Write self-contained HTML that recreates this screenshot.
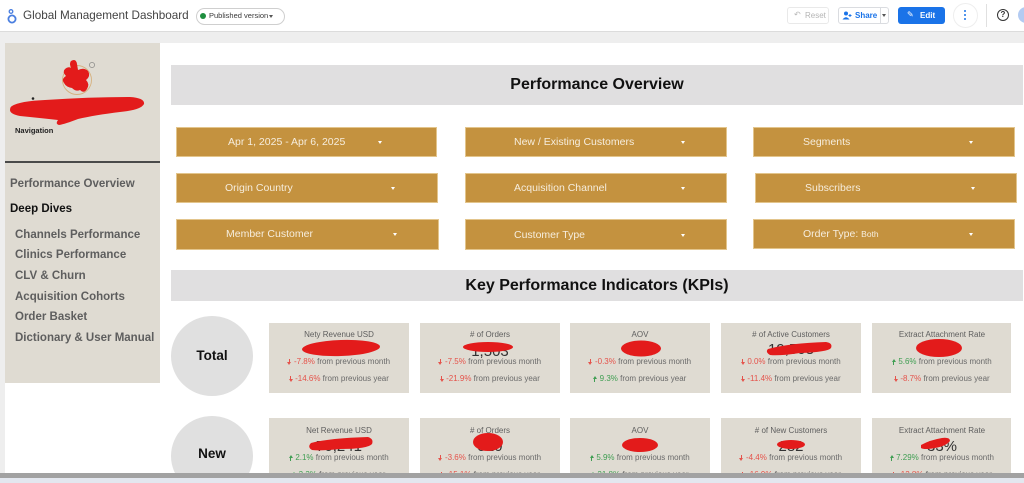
<!DOCTYPE html>
<html><head><meta charset="utf-8">
<style>
*{margin:0;padding:0;box-sizing:border-box}
html,body{width:1024px;height:483px;overflow:hidden;background:#eeeeee;font-family:"Liberation Sans",sans-serif}
#w{position:relative;width:1024px;height:483px;overflow:hidden;background:#eeeeee}
.a{position:absolute}
.top{left:0;top:0;width:1024px;height:32px;background:#fff;border-bottom:1px solid #dcdcdc}
.main{left:5px;top:43px;width:1019px;height:430px;background:#fff}
.side{left:5px;top:43px;width:155px;height:340px;background:#dfdbd2}
.nav{position:absolute;font-size:11.5px;font-weight:bold;color:#5e5e5e;white-space:nowrap;line-height:14px}
.hbar{left:171px;width:852px;background:#e0dfe0;text-align:center;font-weight:bold;color:#111;font-size:16px}
.f{position:absolute;height:30px;background:#c4923f;border:1px solid #e3c58c}
.ft{position:absolute;font-size:10.5px;color:#f6eddd;white-space:nowrap;line-height:12px}
.arr{position:absolute;width:0;height:0;border-left:2.5px solid transparent;border-right:2.5px solid transparent;border-top:3px solid #fff}
.circ{position:absolute;width:82px;height:80px;border-radius:50%;background:#e0e0e0;text-align:center;font-weight:bold;font-size:13.5px;color:#111}
.card{position:absolute;width:140px;height:70px;background:#dfdbd2}
.ct{position:absolute;left:0;width:140px;text-align:center;font-size:8px;color:#5e5e5e;white-space:nowrap;line-height:10px}
.cv{position:absolute;left:0;width:140px;text-align:center;font-size:15px;color:#333;white-space:nowrap;line-height:16px}
.cl{position:absolute;left:0;width:140px;text-align:center;font-size:8px;color:#6a6a6a;white-space:nowrap;line-height:10px}
.r{color:#e5534b}.g{color:#3f9e52}
.dn,.up{display:inline-block;width:3px;height:6px;margin-right:3px;vertical-align:-0.5px;position:relative}
.dn{background:linear-gradient(#e5534b,#e5534b) top center/1.4px 4px no-repeat}
.dn:after{content:"";position:absolute;left:-0.5px;top:3px;border-left:2px solid transparent;border-right:2px solid transparent;border-top:3px solid #e5534b}
.up{background:linear-gradient(#3f9e52,#3f9e52) bottom center/1.4px 4px no-repeat}
.up:after{content:"";position:absolute;left:-0.5px;top:0;border-left:2px solid transparent;border-right:2px solid transparent;border-bottom:3px solid #3f9e52}
</style></head><body>
<div id="w">

<!-- top bar -->
<div class="a top"></div>
<svg class="a" style="left:6px;top:7px" width="14" height="18" viewBox="0 0 14 18">
<circle cx="6" cy="12" r="3.6" fill="none" stroke="#4a7fe0" stroke-width="1.8"/>
<circle cx="5" cy="4.5" r="1.8" fill="none" stroke="#4a7fe0" stroke-width="1.3"/>
</svg>
<div class="a" style="left:23px;top:9px;font-size:11.7px;color:#444;white-space:nowrap;line-height:14px">Global Management Dashboard</div>
<div class="a" style="left:196px;top:8px;width:89px;height:17px;border:1px solid #cfcfcf;border-radius:9px;background:#fff"></div>
<div class="a" style="left:200px;top:13px;width:6px;height:6px;border-radius:50%;background:#1e8e3e"></div>
<div class="a" style="left:209px;top:11px;font-size:7.5px;color:#3a3a3a;white-space:nowrap;line-height:10px">Published version</div>
<div class="arr" style="left:269px;top:15px;border-top-color:#555"></div>

<!-- right buttons -->
<div class="a" style="left:787px;top:7px;width:42px;height:17px;border:1px solid #e9e9e9;border-radius:3px"></div>
<div class="a" style="left:794px;top:10px;font-size:8px;color:#b8b8b8;line-height:10px">&#8630;</div>
<div class="a" style="left:805px;top:11px;font-size:8px;color:#b5b5b5;line-height:10px">Reset</div>
<div class="a" style="left:838px;top:7px;width:51px;height:17px;border:1px solid #dadce0;border-radius:3px"></div>
<div class="a" style="left:880px;top:7px;width:1px;height:17px;background:#dadce0"></div>
<svg class="a" style="left:842px;top:11px" width="10" height="9" viewBox="0 0 10 9"><circle cx="4" cy="2.5" r="2" fill="#1a73e8"/><path d="M0.5 8.5 Q4 4 7.5 8.5Z" fill="#1a73e8"/><path d="M8 3v3M6.5 4.5h3" stroke="#1a73e8" stroke-width="1"/></svg>
<div class="a" style="left:855px;top:11px;font-size:8px;font-weight:bold;color:#1a73e8;line-height:10px">Share</div>
<div class="arr" style="left:882px;top:14px;border-top-color:#555"></div>
<div class="a" style="left:898px;top:7px;width:47px;height:17px;background:#1a73e8;border-radius:3px"></div>
<div class="a" style="left:907px;top:10px;font-size:8px;color:#fff;line-height:10px">&#9998;</div>
<div class="a" style="left:920px;top:11px;font-size:8px;font-weight:bold;color:#fff;line-height:10px">Edit</div>
<div class="a" style="left:953px;top:3px;width:25px;height:25px;border-radius:50%;border:1px solid #eee"></div>
<div class="a" style="left:964px;top:10px;width:2px;height:2px;background:#1a73e8;border-radius:1px"></div>
<div class="a" style="left:964px;top:14px;width:2px;height:2px;background:#1a73e8;border-radius:1px"></div>
<div class="a" style="left:964px;top:18px;width:2px;height:2px;background:#1a73e8;border-radius:1px"></div>
<div class="a" style="left:986px;top:4px;width:1px;height:23px;background:#e0e0e0"></div>
<div class="a" style="left:997px;top:9px;width:12px;height:12px;border-radius:50%;border:1.4px solid #333;text-align:center;font-size:8px;font-weight:bold;line-height:9.5px;color:#333">?</div>
<div class="a" style="left:1018px;top:7px;width:16px;height:16px;border-radius:50%;background:#b3cbf2"></div>

<!-- main -->
<div class="a main"></div>
<div class="a side"></div>
<div class="a" style="left:5px;top:161px;width:155px;height:2px;background:#4a4a4a"></div>
<div class="nav" style="left:10px;top:177px">Performance Overview</div>
<div class="nav" style="left:10px;top:202px;color:#111">Deep Dives</div>
<div class="nav" style="left:15px;top:228px">Channels Performance</div>
<div class="nav" style="left:15px;top:248px">Clinics Performance</div>
<div class="nav" style="left:15px;top:269px">CLV &amp; Churn</div>
<div class="nav" style="left:15px;top:290px">Acquisition Cohorts</div>
<div class="nav" style="left:15px;top:310px">Order Basket</div>
<div class="nav" style="left:15px;top:331px">Dictionary &amp; User Manual</div>
<div class="a" style="left:15px;top:126px;font-size:7.5px;font-weight:bold;color:#222;line-height:9px">Navigation</div>

<!-- headers -->
<div class="a hbar" style="top:65px;height:40px;line-height:40px">Performance Overview</div>
<div class="a hbar" style="top:270px;height:31px;line-height:31px">Key Performance Indicators (KPIs)</div>

<!-- filters -->
<div class="f" style="left:176px;top:127px;width:261px"></div>
<div class="ft" style="left:228px;top:136px">Apr 1, 2025 - Apr 6, 2025</div>
<div class="arr" style="left:378px;top:141px"></div>
<div class="f" style="left:176px;top:173px;width:262px"></div>
<div class="ft" style="left:225px;top:182px">Origin Country</div>
<div class="arr" style="left:391px;top:187px"></div>
<div class="f" style="left:176px;top:219px;width:263px;height:31px"></div>
<div class="ft" style="left:226px;top:228px">Member Customer</div>
<div class="arr" style="left:393px;top:233px"></div>

<div class="f" style="left:465px;top:127px;width:262px"></div>
<div class="ft" style="left:514px;top:136px">New / Existing Customers</div>
<div class="arr" style="left:681px;top:141px"></div>
<div class="f" style="left:465px;top:173px;width:262px"></div>
<div class="ft" style="left:514px;top:182px">Acquisition Channel</div>
<div class="arr" style="left:681px;top:187px"></div>
<div class="f" style="left:465px;top:219px;width:262px;height:31px"></div>
<div class="ft" style="left:514px;top:229px">Customer Type</div>
<div class="arr" style="left:681px;top:234px"></div>

<div class="f" style="left:753px;top:127px;width:262px"></div>
<div class="ft" style="left:803px;top:136px">Segments</div>
<div class="arr" style="left:969px;top:141px"></div>
<div class="f" style="left:755px;top:173px;width:262px"></div>
<div class="ft" style="left:805px;top:182px">Subscribers</div>
<div class="arr" style="left:971px;top:187px"></div>
<div class="f" style="left:753px;top:219px;width:262px"></div>
<div class="ft" style="left:803px;top:228px">Order Type: <span style="font-size:8.5px">Both</span></div>
<div class="arr" style="left:969px;top:233px"></div>

<!-- circles -->
<div class="circ" style="left:171px;top:316px;line-height:79px">Total</div>
<div class="circ" style="left:171px;top:416px;line-height:76px">New</div>

<!-- row 1 cards -->
<div class="card" style="left:269px;top:323px">
 <div class="ct" style="top:7px">Nety Revenue USD</div>
 <div class="cv" style="top:19px">72,608</div>
 <div class="cl" style="top:34px"><i class="dn"></i><span class="r">-7.8%</span> from previous month</div>
 <div class="cl" style="top:51px"><i class="dn"></i><span class="r">-14.6%</span> from previous year</div>
</div>
<div class="card" style="left:420px;top:323px">
 <div class="ct" style="top:7px"># of Orders</div>
 <div class="cv" style="top:21px">1,503</div>
 <div class="cl" style="top:34px"><i class="dn"></i><span class="r">-7.5%</span> from previous month</div>
 <div class="cl" style="top:51px"><i class="dn"></i><span class="r">-21.9%</span> from previous year</div>
</div>
<div class="card" style="left:570px;top:323px">
 <div class="ct" style="top:7px">AOV</div>
 <div class="cv" style="top:19px">48</div>
 <div class="cl" style="top:34px"><i class="dn"></i><span class="r">-0.3%</span> from previous month</div>
 <div class="cl" style="top:51px"><i class="up"></i><span class="g">9.3%</span> from previous year</div>
</div>
<div class="card" style="left:721px;top:323px">
 <div class="ct" style="top:7px"># of Active Customers</div>
 <div class="cv" style="top:19px">19,508</div>
 <div class="cl" style="top:34px"><i class="dn"></i><span class="r">0.0%</span> from previous month</div>
 <div class="cl" style="top:51px"><i class="dn"></i><span class="r">-11.4%</span> from previous year</div>
</div>
<div class="card" style="left:872px;top:323px;width:139px">
 <div class="ct" style="top:7px">Extract Attachment Rate</div>
 <div class="cv" style="top:19px">31%</div>
 <div class="cl" style="top:34px"><i class="up"></i><span class="g">5.6%</span> from previous month</div>
 <div class="cl" style="top:51px"><i class="dn"></i><span class="r">-8.7%</span> from previous year</div>
</div>

<!-- row 2 cards -->
<div class="card" style="left:269px;top:418px">
 <div class="ct" style="top:8px">Net Revenue USD</div>
 <div class="cv" style="top:21px">70,241</div>
 <div class="cl" style="top:35px"><i class="up"></i><span class="g">2.1%</span> from previous month</div>
 <div class="cl" style="top:52px"><i class="up"></i><span class="g">3.3%</span> from previous year</div>
</div>
<div class="card" style="left:420px;top:418px">
 <div class="ct" style="top:8px"># of Orders</div>
 <div class="cv" style="top:21px">510</div>
 <div class="cl" style="top:35px"><i class="dn"></i><span class="r">-3.6%</span> from previous month</div>
 <div class="cl" style="top:52px"><i class="dn"></i><span class="r">-15.1%</span> from previous year</div>
</div>
<div class="card" style="left:570px;top:418px">
 <div class="ct" style="top:8px">AOV</div>
 <div class="cv" style="top:21px">52</div>
 <div class="cl" style="top:35px"><i class="up"></i><span class="g">5.9%</span> from previous month</div>
 <div class="cl" style="top:52px"><i class="up"></i><span class="g">21.8%</span> from previous year</div>
</div>
<div class="card" style="left:721px;top:418px">
 <div class="ct" style="top:8px"># of New Customers</div>
 <div class="cv" style="top:21px">282</div>
 <div class="cl" style="top:35px"><i class="dn"></i><span class="r">-4.4%</span> from previous month</div>
 <div class="cl" style="top:52px"><i class="dn"></i><span class="r">-16.9%</span> from previous year</div>
</div>
<div class="card" style="left:872px;top:418px;width:139px">
 <div class="ct" style="top:8px">Extract Attachment Rate</div>
 <div class="cv" style="top:21px">33%</div>
 <div class="cl" style="top:35px"><i class="up"></i><span class="g">7.29%</span> from previous month</div>
 <div class="cl" style="top:52px"><i class="dn"></i><span class="r">-12.8%</span> from previous year</div>
</div>

<!-- scribbles / logo -->
<svg class="a" style="left:0;top:0" width="1024" height="483" viewBox="0 0 1024 483">
 <circle cx="77" cy="80" r="14.5" fill="none" stroke="#d6b17f" stroke-width="0.9"/>
 <circle cx="92" cy="65" r="2.6" fill="none" stroke="#777" stroke-width="0.6"/>
 <path d="M71 61 Q76 58 77 64 L78 70 Q84 67 88 71 Q91 76 86 80 Q90 84 87 89 Q84 94 80 90 Q76 92 72 88 Q66 87 64 83 Q61 79 66 76 Q62 72 65 69 Q68 66 71 68 Q69 63 71 61Z" fill="#e31b1b"/>
 <circle cx="33" cy="98.5" r="1.3" fill="#222"/>
 <path d="M12 106 Q20 101 45 100 Q90 97 130 97 Q145 98 144 104 Q141 110 120 112 Q95 115 78 119 Q65 124 59 125 Q55 124 58 120 Q40 118 20 116 Q10 114 10 110 Q10 107 12 106Z" fill="#e31b1b"/>
 <ellipse cx="341" cy="348" rx="39" ry="8" fill="#e31b1b" transform="rotate(-2 341 348)"/>
 <ellipse cx="488" cy="347" rx="25" ry="5" fill="#e31b1b"/>
 <ellipse cx="641" cy="348.5" rx="20" ry="8" fill="#e31b1b"/>
 <path d="M768 349 Q790 343 826 342 Q833 343 831 348 Q828 352 800 353 Q780 356 770 355 Q765 352 768 349Z" fill="#e31b1b"/>
 <ellipse cx="939" cy="348" rx="23" ry="9" fill="#e31b1b"/>
 <path d="M311 443 Q330 438 368 437 Q374 439 372 444 Q368 449 340 449 Q320 451 312 450 Q307 447 311 443Z" fill="#e31b1b"/>
 <ellipse cx="488" cy="442" rx="15" ry="9" fill="#e31b1b"/>
 <ellipse cx="640" cy="445" rx="18" ry="7" fill="#e31b1b"/>
 <ellipse cx="791" cy="444.5" rx="14" ry="4.5" fill="#e31b1b"/>
 <path d="M921 445 Q930 440 942 438 Q950 437 950 441 Q946 446 935 448 Q924 450 921 448Z" fill="#e31b1b"/>
</svg>

<!-- bottom bar -->
<div class="a" style="left:0;top:473px;width:1024px;height:5px;background:#a2a2a2"></div>
<div class="a" style="left:0;top:478px;width:1024px;height:5px;background:#e3e7ef"></div>
</div>
</body></html>
